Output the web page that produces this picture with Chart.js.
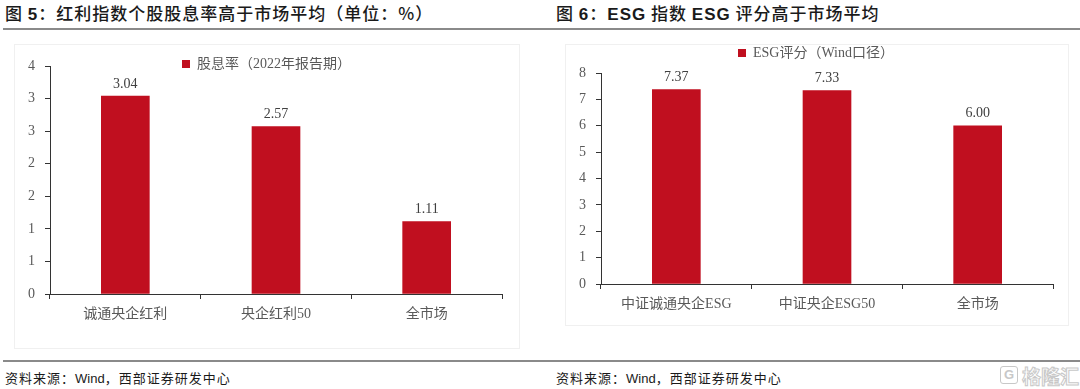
<!DOCTYPE html>
<html><head><meta charset="utf-8">
<script src="https://cdn.jsdelivr.net/npm/chart.js@4.4.1/dist/chart.umd.min.js"></script>
<style>
html,body{margin:0;padding:0;background:#fff;width:1080px;height:389px;overflow:hidden;position:relative;font-family:"Noto Sans CJK SC",sans-serif;}
.title{position:absolute;top:2px;font-size:17px;line-height:22px;color:#1a1a1a;letter-spacing:1px;white-space:nowrap;font-weight:500;}
.title b{font-family:"Liberation Sans",Arial,sans-serif;font-weight:700;}
.hr{position:absolute;left:3px;right:0;height:2px;background:#8a8a8a;}
.box{position:absolute;border:1px solid #f0f0f0;}
.src{position:absolute;top:369px;font-size:13px;line-height:18px;color:#1a1a1a;letter-spacing:1px;white-space:nowrap;}
.src b{font-family:"Liberation Sans",Arial,sans-serif;font-weight:400;letter-spacing:0;}
canvas{position:absolute;}
.wm{position:absolute;left:1000px;top:366px;font-size:19px;line-height:20px;color:#fff;-webkit-text-stroke:1px #c8c8c8;white-space:nowrap;font-weight:700;}
.wm span{display:inline-block;width:16px;height:16px;border:1.5px solid #c8c8c8;border-radius:3px;font-size:13px;line-height:16px;text-align:center;vertical-align:top;margin-right:4px;-webkit-text-stroke:0;color:#c8c8c8;font-family:"Liberation Sans",sans-serif;}
</style></head>
<body>
<div class="title" style="left:5px;">图 <b>5</b>：红利指数个股股息率高于市场平均（单位：%）</div>
<div class="title" style="left:556px;">图 <b>6</b>：<b>ESG</b> 指数 <b>ESG</b> 评分高于市场平均</div>
<div class="hr" style="top:28px;"></div>
<div class="box" style="left:14px;top:44px;width:504px;height:303px;"></div>
<div class="box" style="left:565px;top:44px;width:502px;height:280px;"></div>
<canvas id="c1" width="504" height="302" style="left:15px;top:45px;"></canvas>
<canvas id="c2" width="503" height="280" style="left:565px;top:45px;"></canvas>
<div class="hr" style="top:360px;"></div>
<div class="src" style="left:5px;">资料来源：<b>Wind</b>，西部证券研发中心</div>
<div class="src" style="left:556px;">资料来源：<b>Wind</b>，西部证券研发中心</div>
<div class="wm"><span>G</span>格隆汇</div>
<script>
// ---- data ----
const leftCategories = ['诚通央企红利', '央企红利50', '全市场'];
const leftValues = [3.04, 2.57, 1.11];
const leftSeriesName = '股息率（2022年报告期）';
const leftTickLabels = ['0', '1', '1', '2', '2', '3', '3', '4'];

const rightCategories = ['中证诚通央企ESG', '中证央企ESG50', '全市场'];
const rightValues = [7.37, 7.33, 6.00];
const rightSeriesName = 'ESG评分（Wind口径）';
const rightTickLabels = ['0', '1', '2', '3', '4', '5', '6', '7', '8'];

// ---- styles ----
const RED = '#C00F1F';
const AXIS = '#333333';
const TXT = '#595959';
const FONT = '"Liberation Serif", "Noto Sans CJK SC", serif';

const valueLabels = {
  id: 'valueLabels',
  afterDatasetsDraw(chart) {
    const ctx = chart.ctx;
    const meta = chart.getDatasetMeta(0);
    ctx.save();
    ctx.font = '14px ' + FONT;
    ctx.fillStyle = '#404040';
    ctx.textAlign = 'center';
    ctx.textBaseline = 'middle';
    meta.data.forEach((bar, i) => {
      const v = chart.data.datasets[0].data[i];
      ctx.fillText(v.toFixed(2), bar.x, bar.y - 12);
    });
    ctx.restore();
  }
};
function legendLayout(h, shift) {
  return {
    id: 'legendLayout',
    beforeInit(chart) {
      const fit = chart.legend.fit;
      chart.legend.fit = function () { fit.call(this); this.height = h; };
    },
    afterLayout(chart) {
      const l = chart.legend;
      l.bottom = l.top + 30; l.height = 30;
      l.left += shift; l.right += shift;
    }
  };
}

function makeChart(id, cats, vals, name, tickLabels, cfg) {
  return new Chart(document.getElementById(id), {
    type: 'bar',
    data: {
      labels: cats,
      datasets: [{ label: name, data: vals, backgroundColor: RED, borderWidth: 0, barThickness: 48 }]
    },
    options: {
      responsive: false,
      devicePixelRatio: 1,
      animation: false,
      layout: { padding: { left: 0, right: cfg.padRight, top: cfg.padTop, bottom: 0 } },
      plugins: {
        tooltip: { enabled: false },
        legend: {
          position: 'top',
          labels: { boxWidth: 8, boxHeight: 8, padding: 0, color: TXT, font: { family: FONT, size: 14 } }
        }
      },
      scales: {
        x: {
          grid: { offset: true, drawOnChartArea: false, drawTicks: true, tickLength: 5, color: AXIS },
          border: { display: true, color: AXIS, width: 1 },
          ticks: { color: TXT, font: { family: FONT, size: 14 }, padding: 7, maxRotation: 0, autoSkip: false },
          afterFit(s) { s.height = cfg.xHeight; }
        },
        y: {
          min: 0, max: cfg.max,
          grid: { drawOnChartArea: false, drawTicks: true, tickLength: 5, color: AXIS },
          border: { display: true, color: AXIS, width: 1 },
          ticks: { stepSize: cfg.step, color: TXT, font: { family: FONT, size: 14 }, padding: 10,
                   callback: (v, i) => tickLabels[i] },
          afterFit(s) { s.width = cfg.yWidth; }
        }
      }
    },
    plugins: [valueLabels, legendLayout(cfg.legendH, cfg.legendShift)]
  });
}

makeChart('c1', leftCategories, leftValues, leftSeriesName, leftTickLabels,
  { padRight: 17, padTop: 12, legendH: 9, legendShift: 8, xHeight: 53, yWidth: 35, max: 3.5, step: 0.5 });
makeChart('c2', rightCategories, rightValues, rightSeriesName, rightTickLabels,
  { padRight: 15, padTop: 1, legendH: 27, legendShift: 7, xHeight: 41, yWidth: 36, max: 8, step: 1 });
</script>
</body></html>
